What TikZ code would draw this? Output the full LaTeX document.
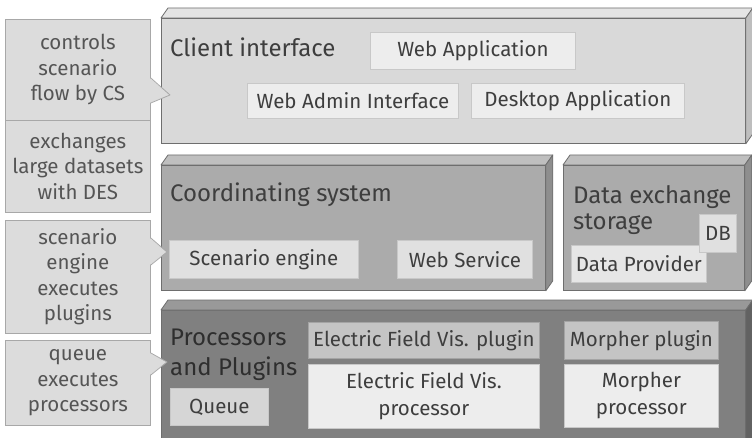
\documentclass[tikz,border=0pt]{standalone}
\usepackage{fontspec}
\setmainfont{Fira Sans}
\usetikzlibrary{calc}
\definecolor{txt}{HTML}{3E3E3E}
\definecolor{calltxt}{HTML}{555555}
\definecolor{callfill}{HTML}{DCDCDC}
\definecolor{callborder}{HTML}{A8A8A8}
\definecolor{cifront}{HTML}{D9D9D9}
\definecolor{citop}{HTML}{E4E4E4}
\definecolor{ciside}{HTML}{BEBEBE}
\definecolor{csfront}{HTML}{ABABAB}
\definecolor{cstop}{HTML}{BFBFBF}
\definecolor{csside}{HTML}{8E8E8E}
\definecolor{ppfront}{HTML}{808080}
\definecolor{pptop}{HTML}{999999}
\definecolor{ppside}{HTML}{626262}
\definecolor{layborder}{HTML}{6E6E6E}
\definecolor{innborder}{HTML}{C8C8C8}
\definecolor{innlight}{HTML}{EDEDED}
\definecolor{innmid}{HTML}{E0E0E0}
\definecolor{inndp}{HTML}{E6E6E6}
\definecolor{innqueue}{HTML}{D6D6D6}
\definecolor{inndark}{HTML}{C4C4C4}
\definecolor{inndarkborder}{HTML}{A4A4A4}
\tikzset{
  callout/.style={draw=callborder, fill=callfill, text=calltxt, align=center,
    font=\fontsize{20.5}{25.5}\selectfont, inner sep=0pt, anchor=north west, line width=0.8pt},
  inbox/.style={draw=innborder, fill=innlight, text=txt, align=center,
    font=\fontsize{20.5}{27}\selectfont, inner sep=0pt, anchor=north west, line width=0.8pt},
  layer/.style={draw=layborder, inner sep=0pt, anchor=north west, line width=0.8pt},
  laylabel/.style={text=txt, anchor=west, align=left, inner sep=0pt,
    font=\fontsize{24}{26}\selectfont},
}
\begin{document}
\begin{tikzpicture}[x=1pt,y=1pt]
\useasboundingbox (0,0) rectangle (752,-438);
\fill[white] (0,0) rectangle (752,-438);

% ---------- layers (3D boxes) ----------
\newcommand\layerfaces[3]{%
  \filldraw[fill=#2, draw=layborder, line width=0.8pt, line join=round]
    (#1.north west) -- ++(7,10) -- ($(#1.north east)+(7,10)$) -- (#1.north east) -- cycle;
  \filldraw[fill=#3, draw=layborder, line width=0.8pt, line join=round]
    (#1.north east) -- ++(7,10) -- ($(#1.south east)+(7,10)$) -- (#1.south east) -- cycle;
}
\node[layer, fill=cifront, minimum width=584, minimum height=125] (ci) at (161,-18) {};
\layerfaces{ci}{citop}{ciside}
\node[layer, fill=csfront, minimum width=384, minimum height=125] (cs) at (161,-165) {};
\layerfaces{cs}{cstop}{csside}
\node[layer, fill=csfront, minimum width=181, minimum height=125] (des) at (563,-165) {};
\layerfaces{des}{cstop}{csside}
\node[layer, fill=ppfront, minimum width=584, minimum height=140] (pp) at (161,-310) {};
\layerfaces{pp}{pptop}{ppside}

% ---------- layer labels ----------
\node[laylabel] (cil) at (170,-47) {Client interface};
\node[laylabel] (csl) at (170,-195) {Coordinating system};
\node[laylabel] (desl) at (573,-210) {Data exchange\\storage};
\node[laylabel, text=black!82, font=\fontsize{24}{30}\selectfont] (ppl) at (170,-355) {Processors\\and Plugins};

% ---------- inner boxes ----------
\node[inbox, minimum width=205, minimum height=37] (webapp) at (370,-32) {Web Application};
\node[inbox, minimum width=211, minimum height=35] (webadmin) at (247,-83) {Web Admin Interface};
\node[inbox, minimum width=213, minimum height=35] (desktop) at (471,-83) {Desktop Application};
\node[inbox, fill=innmid, minimum width=189, minimum height=38] (scen) at (169,-240) {Scenario engine};
\node[inbox, fill=innmid, minimum width=135, minimum height=38] (websvc) at (397,-240) {Web Service};
\node[inbox, fill=inndp, minimum width=135, minimum height=37] (dp) at (571,-245) {Data Provider};
\node[inbox, fill=innmid, minimum width=37, minimum height=38] (db) at (699,-214) {DB};
\node[inbox, fill=innqueue, minimum width=98, minimum height=37] (queue) at (170,-388) {Queue};
\node[inbox, fill=inndark, draw=inndarkborder, minimum width=231, minimum height=36] (efplug) at (308,-322) {Electric Field Vis. plugin};
\node[inbox, minimum width=231, minimum height=64] (efproc) at (308,-364) {Electric Field Vis.\\processor};
\node[inbox, fill=inndark, draw=inndarkborder, minimum width=154, minimum height=38] (mplug) at (564,-321) {Morpher plugin};
\node[inbox, minimum width=154, minimum height=63] (mproc) at (564,-364) {Morpher\\processor};

% ---------- callouts ----------
\node[callout, minimum width=145, minimum height=101] (c1) at (5,-19) {controls\\scenario\\flow by CS};
\node[callout, minimum width=145, minimum height=92] (c2) at (5,-120) {exchanges\\large datasets\\with DES};
\node[callout, minimum width=145, minimum height=113] (c3) at (5,-220) {scenario\\engine\\executes\\plugins};
\node[callout, minimum width=145, minimum height=85] (c4) at (5,-340) {queue\\executes\\processors};

% pointers
\coordinate (t1) at (170,-95);
\coordinate (t3) at (167,-252);
\coordinate (t4) at (167,-362);
\newcommand\pointer[4]{%
  \fill[callfill] ($(#1.north east)+(-1,-#2)$) -- (#4) -- ($(#1.north east)+(-1,-#3)$) -- cycle;
  \draw[callborder, line width=0.8pt, line join=round]
    ($(#1.north east)+(0,-#2)$) -- (#4) -- ($(#1.north east)+(0,-#3)$);
}
\pointer{c1}{59}{84}{t1}
\pointer{c3}{18}{45}{t3}
\pointer{c4}{13}{35}{t4}
\end{tikzpicture}
\end{document}
